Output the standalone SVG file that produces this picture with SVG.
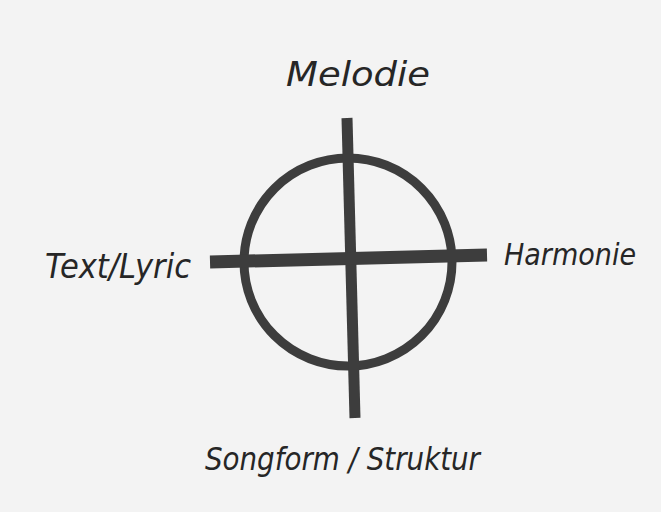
<svg xmlns="http://www.w3.org/2000/svg" width="661" height="512" viewBox="0 0 661 512">
  <style>
    .lbl { font-family: "DejaVu Sans", "Liberation Sans", sans-serif; font-style: italic; fill: #262626; }
    .ink { fill: none; stroke: #3d3d3d; stroke-linecap: butt; }
  </style>
  <rect x="0" y="0" width="661" height="512" fill="#f3f3f3"/>
  <g id="symbol">
    <circle class="ink" cx="348" cy="262" r="104" stroke-width="9"/>
  </g>
  <g id="connectors">
    <path class="ink" d="M347 118 L355 418" stroke-width="11"/>
    <path class="ink" d="M210 262 L487 255" stroke-width="13"/>
  </g>
  <g id="melodie">
    <text class="lbl" x="286" y="86" font-size="34" textLength="144" lengthAdjust="spacingAndGlyphs">Melodie</text>
  </g>
  <g id="textlyric">
    <text class="lbl" x="45" y="278" font-size="34" textLength="146" lengthAdjust="spacingAndGlyphs">Text/Lyric</text>
  </g>
  <g id="harmonie">
    <text class="lbl" x="504" y="265" font-size="30" textLength="132" lengthAdjust="spacingAndGlyphs">Harmonie</text>
  </g>
  <g id="songform">
    <text class="lbl" x="205" y="470" font-size="32" textLength="275" lengthAdjust="spacingAndGlyphs">Songform / Struktur</text>
  </g>
</svg>
